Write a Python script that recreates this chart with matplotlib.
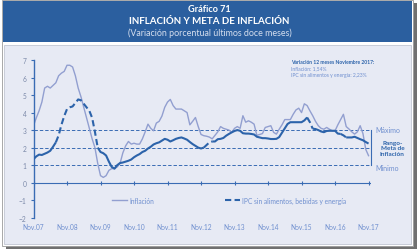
import numpy as np
import matplotlib
matplotlib.use("Agg")
import matplotlib.pyplot as plt
from matplotlib.patches import Rectangle
from matplotlib.lines import Line2D

plt.rcParams['font.family'] = ['Lato', 'DejaVu Sans']

# Variación porcentual 12 meses, mensual Nov.07 - Nov.17
inflacion = [
    3.25, 3.7, 4.1, 4.6, 5.4, 5.5, 5.4, 5.55, 5.7, 6.1, 6.25, 6.35,      # Nov07-Oct08
    6.7, 6.7, 6.6, 6.1, 5.4, 4.9, 4.3, 3.7, 3.1, 2.5, 2.0, 1.1,          # Nov08-Oct09
    0.4, 0.3, 0.4, 0.7, 0.8, 0.8, 0.9, 1.1, 1.7, 2.1, 2.35, 2.2,         # Nov09-Oct10
    2.25, 2.2, 2.2, 2.5, 2.9, 3.34, 3.1, 2.96, 3.4, 3.5, 3.8, 4.3,       # Nov10-Oct11
    4.6, 4.75, 4.4, 4.2, 4.2, 4.2, 4.1, 4.0, 3.3, 3.5, 3.72, 3.2,        # Nov11-Oct12
    2.75, 2.68, 2.65, 2.6, 2.5, 2.7, 2.9, 3.2, 3.1, 3.05, 3.0, 2.87,     # Nov12-Oct13
    3.1, 3.2, 3.1, 3.82, 3.45, 3.53, 3.45, 3.34, 2.7, 2.75, 2.8, 3.15,   # Nov13-Oct14
    3.2, 3.25, 2.87, 2.77, 3.05, 3.3, 3.6, 3.6, 3.6, 3.9, 4.15, 4.25,    # Nov14-Oct15
    4.0, 4.5, 4.4, 4.1, 3.82, 3.5, 3.25, 3.1, 3.05, 3.15, 3.05, 2.96,    # Nov15-Oct16
    2.96, 3.3, 3.6, 3.9, 3.2, 3.06, 2.9, 2.77, 2.9, 3.25, 2.8, 1.9,      # Nov16-Oct17
    1.54,                                                                # Nov17
]
ipc_sae = [
    1.34, 1.5, 1.6, 1.58, 1.65, 1.72, 1.82, 2.05, 2.3, 2.7, 3.3, 3.8,
    4.2, 4.3, 4.35, 4.55, 4.75, 4.7, 4.5, 4.3, 4.1, 3.7, 2.9, 2.0,
    1.75, 1.68, 1.55, 1.2, 0.9, 0.8, 1.0, 1.12, 1.15, 1.2, 1.25, 1.32,
    1.45, 1.55, 1.63, 1.75, 1.82, 1.95, 2.05, 2.18, 2.25, 2.3, 2.4, 2.5,
    2.45, 2.35, 2.42, 2.5, 2.55, 2.58, 2.52, 2.45, 2.32, 2.2, 2.1, 2.0,
    1.95, 2.0, 2.15, 2.3, 2.35, 2.35, 2.48, 2.5, 2.55, 2.68, 2.78, 2.87,
    2.95, 3.0, 2.96, 2.82, 2.8, 2.8, 2.78, 2.75, 2.62, 2.58, 2.54, 2.54,
    2.52, 2.49, 2.49, 2.5, 2.6, 2.85, 3.1, 3.35, 3.45, 3.45, 3.45, 3.45,
    3.45, 3.55, 3.72, 3.45, 3.08, 3.06, 3.0, 2.92, 2.88, 2.95, 2.96, 2.96,
    2.96, 2.8, 2.78, 2.7, 2.58, 2.58, 2.58, 2.62, 2.55, 2.48, 2.42, 2.32,
    2.23,
]
tramos_punteados = [(8, 23), (61, 64), (98, 100), (110, 112)]
etiquetas_x = ['Nov.07', 'Nov.08', 'Nov.09', 'Nov.10', 'Nov.11', 'Nov.12',
               'Nov.13', 'Nov.14', 'Nov.15', 'Nov.16', 'Nov.17']
meta_min, meta_centro, meta_max = 1, 2, 3

c_header = '#2b5f9f'
c_panel = '#e7eaf4'
c_infl = '#929fd0'
c_core = '#2c63aa'
c_ref = '#3a6cb4'
c_txt = '#6f8fcf'

W, H = 419, 251
fig = plt.figure(figsize=(W / 100, H / 100), dpi=100)
fig.patch.set_facecolor('white')

def fx(px):
    return px / W

def fy(py):
    return 1 - py / H

# marco / sombra
fig.patches.append(Rectangle((fx(6), fy(250)), fx(411), 246 / H, transform=fig.transFigure,
                             facecolor='#707070', edgecolor='none', zorder=-3))
fig.patches.append(Rectangle((fx(2), fy(247)), fx(411), 246 / H, transform=fig.transFigure,
                             facecolor='white', edgecolor='#9a9a9a', linewidth=0.6, zorder=-2))
fig.patches.append(Rectangle((fx(4), fy(245)), fx(407), 199 / H, transform=fig.transFigure,
                             facecolor=c_panel, edgecolor='#b8bccb', linewidth=0.5, zorder=-1))
fig.patches.append(Rectangle((fx(3), fy(43)), fx(409), 41 / H, transform=fig.transFigure,
                             facecolor=c_header, edgecolor='none', zorder=-1))

fig.text(0.5, fy(10), 'Gráfico 71', color='white', fontsize=6.6, fontweight='bold',
         ha='center', va='center')
fig.text(0.5, fy(21.5), 'INFLACIÓN Y META DE INFLACIÓN', color='white', fontsize=7,
         fontweight='bold', ha='center', va='center')
fig.text(0.5, fy(33.5), '(Variación porcentual últimos doce meses)', color='#d5deee',
         fontsize=6.4, ha='center', va='center')

ax = fig.add_axes([fx(33.5), fy(218.7), fx(370.5 - 33.5), (218.7 - 61) / H])
ax.set_zorder(2)
ax.set_facecolor('none')
x = np.arange(len(inflacion))
infl = np.array(inflacion)
core = np.array(ipc_sae)

ax.axhline(0, color=c_ref, linewidth=0.8, zorder=1)
ax.plot(x[::12], np.zeros(len(x[::12])), linestyle='none', marker='|', markersize=2.5,
        markeredgewidth=0.8, color=c_ref, zorder=1)
for nivel in (meta_min, meta_centro, meta_max):
    ax.axhline(nivel, color=c_ref, linewidth=0.7, linestyle=(0, (3.5, 2)), zorder=1)
ax.plot([1, 1], [meta_min, meta_max], transform=ax.get_yaxis_transform(),
        color=c_ref, linewidth=0.8, clip_on=False)

ax.plot(x, infl, color=c_infl, linewidth=1.0, zorder=2)

solido = core.copy()
punteado = np.full_like(core, np.nan)
for a, b in tramos_punteados:
    solido[a + 1:b] = np.nan
    punteado[a:b + 1] = core[a:b + 1]
ax.plot(x, solido, color=c_core, linewidth=1.5, zorder=3, solid_capstyle='butt')
ax.plot(x, punteado, color=c_core, linewidth=1.5, linestyle=(0, (3, 1.6)), zorder=3)

ax.set_xlim(0, 120.7)
ax.set_ylim(-2, 7)
ax.set_yticks(range(-2, 8))
ax.tick_params(axis='y', colors=c_ref, labelcolor='#7a88a8', labelsize=4.8,
               length=2.5, width=0.8, pad=2.5)
for s in ('top', 'right', 'bottom'):
    ax.spines[s].set_visible(False)
ax.spines['left'].set_color(c_ref)
ax.spines['left'].set_linewidth(1.0)
ax.set_xticks(x[::12])
ax.set_xticklabels(etiquetas_x)
ax.tick_params(axis='x', length=0, labelcolor=c_txt, labelsize=4.8, pad=4)

# rango meta
ax.text(1.015, meta_max + 0.05, 'Máximo', transform=ax.get_yaxis_transform(),
        color=c_txt, fontsize=5, ha='left', va='center')
ax.text(1.065, meta_centro, 'Rango-\nMeta de\nInflación', transform=ax.get_yaxis_transform(),
        color=c_core, fontsize=4.6, fontweight='bold', ha='center', va='center',
        linespacing=1.1)
ax.text(1.015, meta_min - 0.15, 'Mínimo', transform=ax.get_yaxis_transform(),
        color=c_txt, fontsize=5, ha='left', va='center')

# nota
ax.text(0.765, 0.99, 'Variación 12 meses Noviembre 2017:', transform=ax.transAxes,
        color=c_core, fontsize=3.6, fontweight='bold', ha='left', va='center')
ax.text(0.765, 0.95, 'Inflación: 1,54%', transform=ax.transAxes,
        color=c_txt, fontsize=3.6, ha='left', va='center')
ax.text(0.765, 0.91, 'IPC sin alimentos y energía: 2,23%', transform=ax.transAxes,
        color=c_txt, fontsize=3.6, ha='left', va='center')

h1 = Line2D([], [], color=c_infl, linewidth=1.0)
h2 = Line2D([], [], color=c_core, linewidth=1.5, linestyle=(0, (3, 1.6)))
leg1 = ax.legend([h1], ['Inflación'], loc='center', bbox_to_anchor=(0.295, 0.112),
                 frameon=False, fontsize=4.8, handlelength=2.2, handletextpad=0.4,
                 labelcolor=c_txt)
ax.add_artist(leg1)
ax.legend([h2], ['IPC sin alimentos, bebidas y energía'], loc='center',
          bbox_to_anchor=(0.748, 0.112), frameon=False, fontsize=4.8,
          handlelength=2.2, handletextpad=0.4, labelcolor=c_txt)

fig.savefig('out.png', dpi=100)
